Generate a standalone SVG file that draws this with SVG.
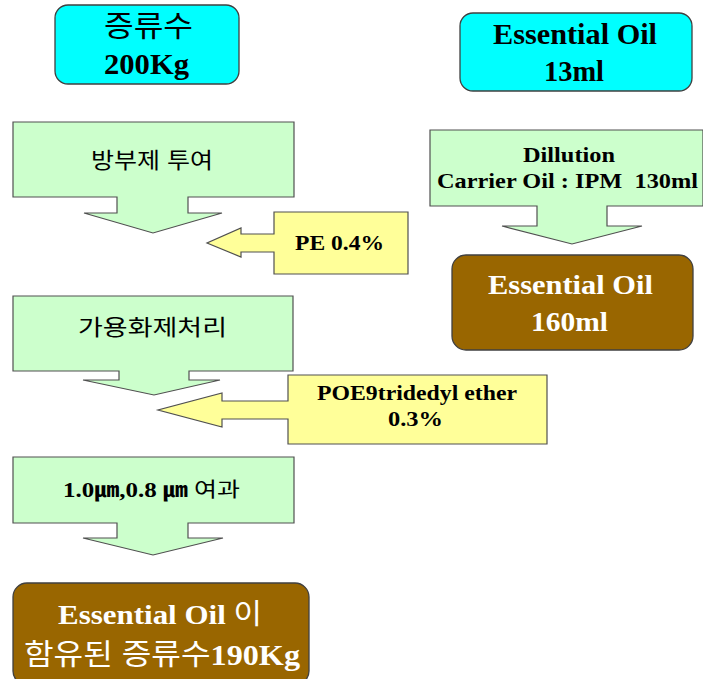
<svg xmlns="http://www.w3.org/2000/svg" width="703" height="679" viewBox="0 0 703 679">
<style>
.cyan{fill:#00FFFF;stroke:#404040;stroke-width:1.3}
.brown{fill:#996600;stroke:#404040;stroke-width:1.3}
.green{fill:#CCFFCC;stroke:#505050;stroke-width:1.2}
.yellow{fill:#FFFF99;stroke:#505050;stroke-width:1.2}
.ser{font-family:"Liberation Serif","Times New Roman",serif;font-weight:bold}
.kr{font-family:"Liberation Sans","Noto Sans CJK KR",sans-serif}
text{fill:#000000}
text.w{fill:#FFFFFF}
</style>
<rect width="703" height="679" fill="#FFFFFF"/>
<g id="connectors"></g>
<g id="n_water">
<rect class="cyan" x="55" y="5" width="184" height="79" rx="13"/>
<text class="kr" x="104" y="37" font-size="29" textLength="89" lengthAdjust="spacingAndGlyphs">증류수</text>
<text class="ser" x="104" y="74" font-size="29" textLength="85" lengthAdjust="spacingAndGlyphs">200Kg</text>
</g>
<g id="n_oil">
<rect class="cyan" x="460" y="13" width="232" height="78" rx="13"/>
<text class="ser" x="493" y="44" font-size="29" textLength="164" lengthAdjust="spacingAndGlyphs">Essential Oil</text>
<text class="ser" x="544" y="81" font-size="29" textLength="60" lengthAdjust="spacingAndGlyphs">13ml</text>
</g>
<g id="n_preserve">
<path class="green" d="M13,122 H294 V197 H188 V213 H222 L153,233 L84,213 H117 V197 H13 Z"/>
<text class="kr" x="91" y="168" font-size="22" textLength="122" lengthAdjust="spacingAndGlyphs">방부제 투여</text>
</g>
<g id="n_pe">
<path class="yellow" d="M274,212 H408 V274 H274 V252 H241 V257 L207,243 L241,228 V234 H274 Z"/>
<text class="ser" x="295" y="250" font-size="20" textLength="89" lengthAdjust="spacingAndGlyphs">PE 0.4%</text>
</g>
<g id="n_dilution">
<path class="green" d="M430,130 H703 V206 H607 V226 H642 L572,244 L502,226 H537 V206 H430 Z"/>
<text class="ser" x="523" y="162" font-size="21" textLength="92" lengthAdjust="spacingAndGlyphs">Dillution</text>
<text class="ser" x="437" y="188" font-size="22" textLength="261" lengthAdjust="spacingAndGlyphs" xml:space="preserve">Carrier Oil : IPM  130ml</text>
</g>
<g id="n_oil160">
<rect class="brown" x="452" y="255" width="241" height="95" rx="14"/>
<text class="ser w" x="488" y="294" font-size="28" textLength="165" lengthAdjust="spacingAndGlyphs">Essential Oil</text>
<text class="ser w" x="531" y="331" font-size="28" textLength="77" lengthAdjust="spacingAndGlyphs">160ml</text>
</g>
<g id="n_solub">
<path class="green" d="M13,296 H293 V371 H189 V380 H220 L154,395 L83,380 H119 V371 H13 Z"/>
<text class="kr" x="78" y="335" font-size="22" textLength="149" lengthAdjust="spacingAndGlyphs">가용화제처리</text>
</g>
<g id="n_poe">
<path class="yellow" d="M288,375 H547 V444 H288 V419 H222 V427 L158,410 L222,393 V401 H288 Z"/>
<text class="ser" x="317" y="400" font-size="21" textLength="200" lengthAdjust="spacingAndGlyphs">POE9tridedyl ether</text>
<text class="ser" x="388" y="426" font-size="21" textLength="55" lengthAdjust="spacingAndGlyphs">0.3%</text>
</g>
<g id="n_filter">
<path class="green" d="M13,457 H294 V523 H188 V538 H223 L153,555 L83,538 H117 V523 H13 Z"/>
<text x="63" y="497" font-size="20" textLength="177" lengthAdjust="spacingAndGlyphs" font-family="Liberation Serif,Noto Sans CJK KR,serif" font-weight="bold">1.0㎛,0.8 ㎛ <tspan font-family="Liberation Sans,Noto Sans CJK KR,sans-serif" font-weight="normal">여과</tspan></text>
</g>
<g id="n_result">
<rect class="brown" x="13" y="583" width="296" height="102" rx="14"/>
<text x="58" y="624" font-size="28" class="w" textLength="204" lengthAdjust="spacingAndGlyphs"><tspan font-family="Liberation Serif,serif" font-weight="bold">Essential Oil </tspan><tspan font-family="Liberation Sans,Noto Sans CJK KR,sans-serif">이</tspan></text>
<text x="24" y="665" font-size="29" class="w" textLength="276" lengthAdjust="spacingAndGlyphs"><tspan font-family="Liberation Sans,Noto Sans CJK KR,sans-serif">함유된 증류수</tspan><tspan font-family="Liberation Serif,serif" font-weight="bold">190Kg</tspan></text>
</g>
</svg>
